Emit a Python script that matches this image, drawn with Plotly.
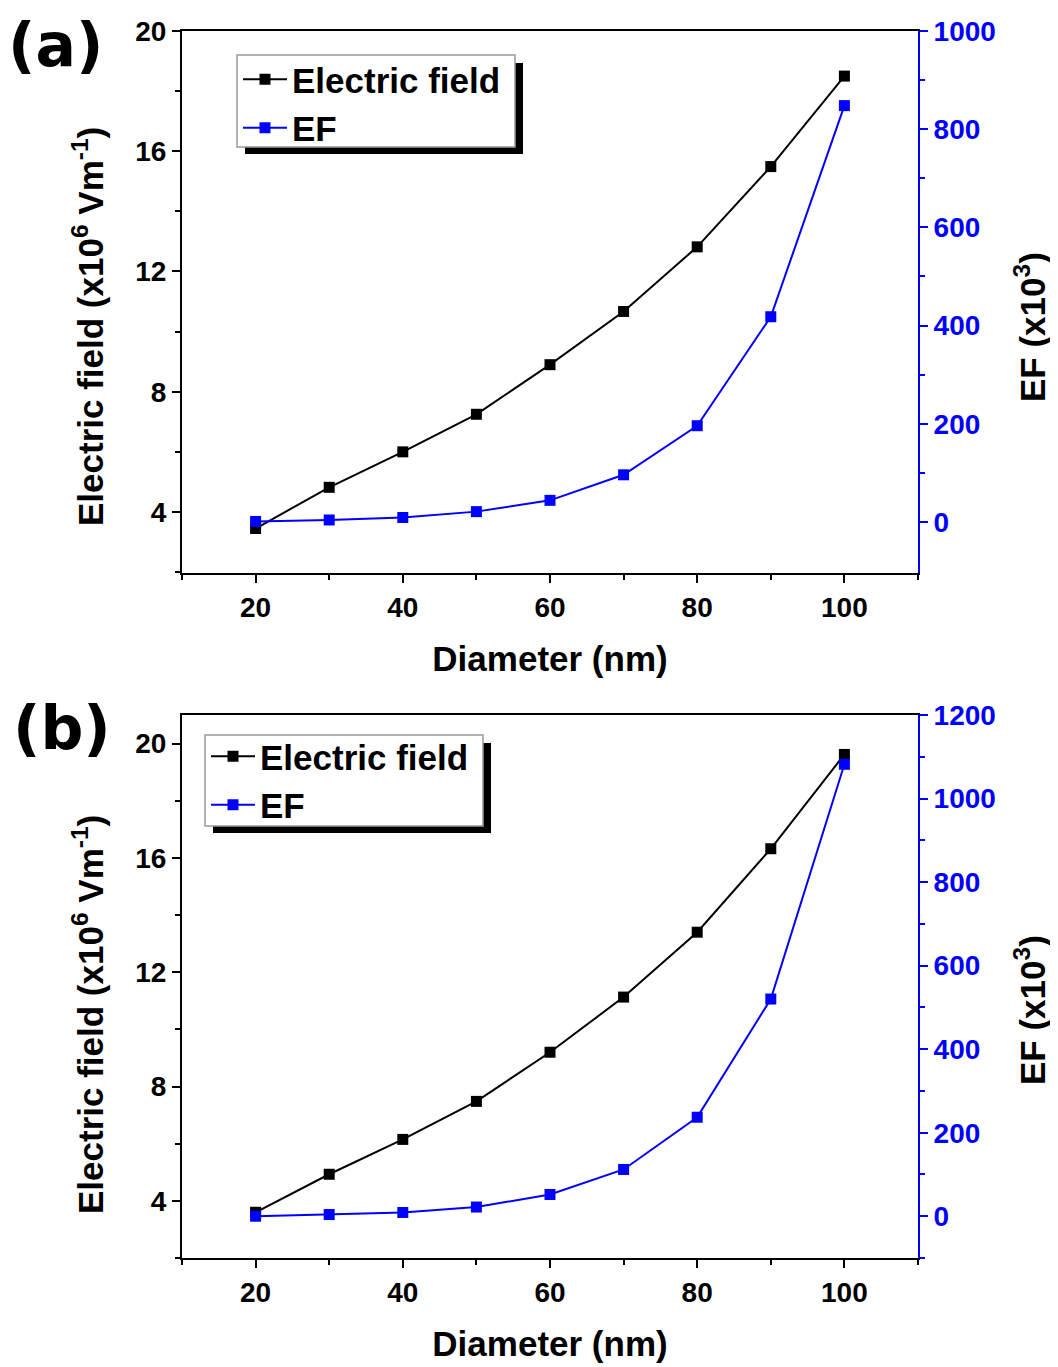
import plotly.graph_objects as go

# ---------------- data ----------------
diameter = [20, 30, 40, 50, 60, 70, 80, 90, 100]
efield_a = [3.45, 4.82, 6.0, 7.25, 8.9, 10.67, 12.82, 15.49, 18.5]
ef_a = [1, 4, 9, 21, 44, 96, 196, 418, 848]
efield_b = [3.6, 4.93, 6.15, 7.48, 9.2, 11.13, 13.4, 16.32, 19.62]
ef_b = [0, 4, 9, 22, 52, 112, 237, 520, 1082]

x_ticks = [20, 40, 60, 80, 100]
yl_ticks = [4, 8, 12, 16, 20]
yr_ticks_a = [0, 200, 400, 600, 800, 1000]
yr_ticks_b = [0, 200, 400, 600, 800, 1000, 1200]

# page is rendered with an 8px body margin
OFF = 8
W, H = 1050, 1359
FONT = "Liberation Sans"
BLUE = "#0000FF"


def fx(px):
    return (px - OFF) / W


def fy(py):
    return 1 - (py - OFF) / H


fig = go.Figure()

mk = dict(symbol="square", size=11)
fig.add_trace(go.Scatter(x=diameter, y=efield_a, name="Electric field", mode="lines+markers",
                         line=dict(color="black", width=2), marker=dict(color="black", **mk),
                         xaxis="x", yaxis="y", legend="legend"))
fig.add_trace(go.Scatter(x=diameter, y=ef_a, name="EF", mode="lines+markers",
                         line=dict(color=BLUE, width=2), marker=dict(color=BLUE, **mk),
                         xaxis="x", yaxis="y2", legend="legend"))
fig.add_trace(go.Scatter(x=diameter, y=efield_b, name="Electric field", mode="lines+markers",
                         line=dict(color="black", width=2), marker=dict(color="black", **mk),
                         xaxis="x2", yaxis="y3", legend="legend2"))
fig.add_trace(go.Scatter(x=diameter, y=ef_b, name="EF", mode="lines+markers",
                         line=dict(color=BLUE, width=2), marker=dict(color=BLUE, **mk),
                         xaxis="x2", yaxis="y4", legend="legend2"))

tick_font = dict(family=FONT, size=28, color="black", weight="bold")
title_font = dict(family=FONT, size=35, color="black", weight="bold")
common = dict(showline=True, linewidth=2, linecolor="black", ticks="outside", ticklen=8,
              tickwidth=2, tickcolor="black", showgrid=False, zeroline=False,
              tickfont=tick_font, automargin=False)

x_dom = [fx(182), fx(918)]
ya_dom = [fy(573), fy(31)]
yb_dom = [fy(1258), fy(715)]

xcommon = dict(common, range=[10, 110], tickvals=x_ticks, mirror=True,
               minor=dict(ticks="outside", ticklen=5, tickwidth=2, tickcolor="black",
                          tickvals=[10, 30, 50, 70, 90, 110]),
               title=dict(text="Diameter (nm)", font=title_font, standoff=25))

ytitle = "Electric field (x10<sup>6</sup> Vm<sup>-1</sup>)"
rtitle = "EF (x10<sup>3</sup>)"
legend_font = dict(family=FONT, size=35, color="black", weight="bold")

fig.update_layout(
    width=W, height=H, paper_bgcolor="white", plot_bgcolor="white",
    margin=dict(l=0, r=0, t=0, b=0),
    xaxis=dict(xcommon, domain=x_dom, anchor="y"),
    yaxis=dict(common, domain=ya_dom, anchor="x", range=[1.97, 20], tickvals=yl_ticks,
               minor=dict(ticks="outside", ticklen=5, tickwidth=2, tickcolor="black",
                          tickvals=[2, 6, 10, 14, 18])),
    yaxis2=dict(common, overlaying="y", side="right", anchor="x", range=[-104, 1000],
                tickvals=yr_ticks_a, linecolor=BLUE, tickcolor=BLUE,
                tickfont=dict(tick_font, color=BLUE),
                minor=dict(ticks="outside", ticklen=5, tickwidth=2, tickcolor=BLUE,
                           tickvals=[100, 300, 500, 700, 900])),
    xaxis2=dict(xcommon, domain=x_dom, anchor="y3"),
    yaxis3=dict(common, domain=yb_dom, anchor="x2", range=[2, 21], tickvals=yl_ticks,
                minor=dict(ticks="outside", ticklen=5, tickwidth=2, tickcolor="black",
                           tickvals=[2, 6, 10, 14, 18])),
    yaxis4=dict(common, overlaying="y3", side="right", anchor="x2", range=[-100, 1200],
                tickvals=yr_ticks_b, linecolor=BLUE, tickcolor=BLUE,
                tickfont=dict(tick_font, color=BLUE),
                minor=dict(ticks="outside", ticklen=5, tickwidth=2, tickcolor=BLUE,
                           tickvals=[-100, 100, 300, 500, 700, 900, 1100])),
    legend=dict(x=fx(238), y=fy(50), xanchor="left", yanchor="top",
                bgcolor="rgba(0,0,0,0)", borderwidth=0, font=legend_font,
                tracegroupgap=0, itemwidth=44),
    legend2=dict(x=fx(206), y=fy(727), xanchor="left", yanchor="top",
                 bgcolor="rgba(0,0,0,0)", borderwidth=0, font=legend_font,
                 tracegroupgap=0, itemwidth=44),
    showlegend=True,
)

# legend boxes with drop shadows
shapes = []
for (bx0, by0, bx1, by1) in [(237, 55, 515, 147), (205, 735, 483, 826)]:
    shapes.append(dict(type="rect", xref="paper", yref="paper", layer="above",
                       x0=fx(bx0 + 8), x1=fx(bx1 + 8), y0=fy(by0 + 8), y1=fy(by1 + 7),
                       fillcolor="black", line=dict(width=0)))
    shapes.append(dict(type="rect", xref="paper", yref="paper", layer="above",
                       x0=fx(bx0), x1=fx(bx1), y0=fy(by0), y1=fy(by1),
                       fillcolor="white", line=dict(color="#999999", width=1.5)))
fig.update_layout(shapes=shapes)

# y-axis titles (placed as in the reference, offset below axis centre)
for yc_left, yc_right in [(327, 327), (1015, 1010)]:
    fig.add_annotation(text=ytitle, x=fx(88), y=fy(yc_left), xref="paper", yref="paper",
                       showarrow=False, textangle=-90, font=title_font,
                       xanchor="center", yanchor="middle")
    fig.add_annotation(text=rtitle, x=fx(1030), y=fy(yc_right), xref="paper", yref="paper",
                       showarrow=False, textangle=-90, font=title_font,
                       xanchor="center", yanchor="middle")

panel_font = dict(family="DejaVu Sans", size=60, color="black", weight="bold")
fig.add_annotation(text="(a)", x=fx(55), y=fy(45), xref="paper", yref="paper",
                   showarrow=False, font=panel_font, xanchor="center", yanchor="middle")
fig.add_annotation(text="(b)", x=fx(62), y=fy(728), xref="paper", yref="paper",
                   showarrow=False, font=panel_font, xanchor="center", yanchor="middle")

fig.write_html("out.html")
